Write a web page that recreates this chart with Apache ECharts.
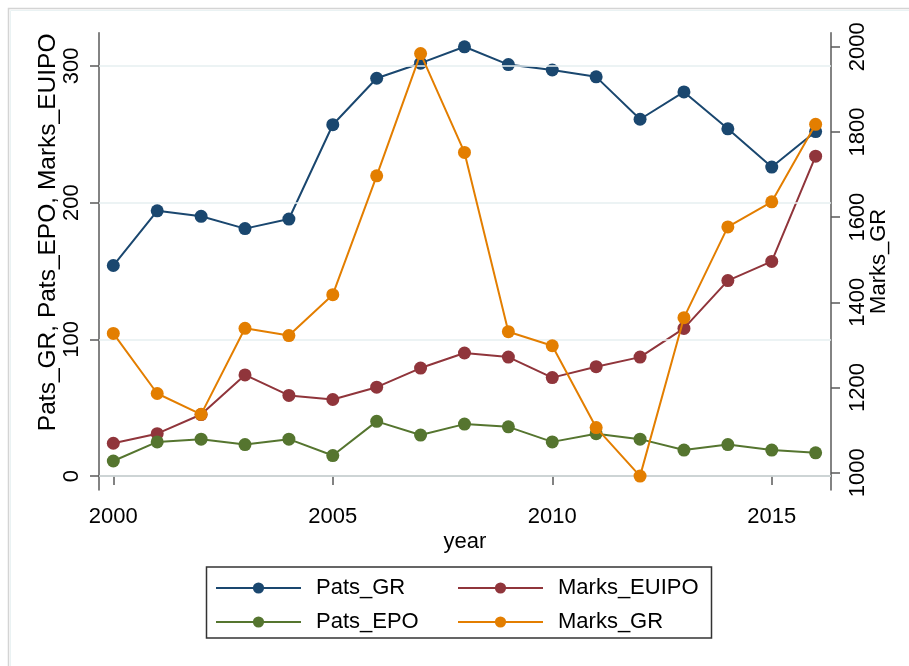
<!DOCTYPE html>
<html>
<head>
<meta charset="utf-8">
<script src="https://cdn.jsdelivr.net/npm/echarts@6/dist/echarts.min.js"></script>
<style>
html,body{margin:0;padding:0;background:#fff;}
#chart{width:909px;height:666px;}
</style>
</head>
<body>
<div id="chart"></div>
<script>
// ---- data ----
const years = [2000,2001,2002,2003,2004,2005,2006,2007,2008,2009,2010,2011,2012,2013,2014,2015,2016];
const patsGR = [154,194,190,181,188,257,291,302,314,301,297,292,261,281,254,226,252];
const marksEUIPO = [24,31,45,74,59,56,65,79,90,87,72,80,87,108,143,157,234];
const patsEPO = [11,25,27,23,27,15,40,30,38,36,25,31,27,19,23,19,17];
const marksGR = [1327,1186,1137,1339,1322,1418,1697,1984,1752,1331,1298,1106,992,1364,1577,1636,1818];
const xTicks = [2000,2005,2010,2015];
const leftTicks = [0,100,200,300];
const rightTicks = [1000,1200,1400,1600,1800,2000];
const leftTitle = 'Pats_GR, Pats_EPO, Marks_EUIPO';
const rightTitle = 'Marks_GR';
const xTitle = 'year';

const FONT = "'Liberation Sans', Arial, sans-serif";
const AXIS_COLOR = '#5a5a5a';
const GRID_COLOR = '#e6eff1';

function pairs(vals){ return years.map((y,i)=>[y, vals[i]]); }

const chart = echarts.init(document.getElementById('chart'), null, {renderer:'canvas'});

function mkSeries(name, vals, color, yIdx, z){
  return {
    name: name, type: 'line', yAxisIndex: yIdx, z: z,
    data: pairs(vals),
    symbol: 'circle', symbolSize: 13,
    lineStyle: {color: color, width: 2},
    itemStyle: {color: color},
    emphasis: {disabled: true},
    animation: false
  };
}

const axisCommon = {
  axisLine: {show: true, lineStyle: {color: AXIS_COLOR, width: 1.5}},
  splitLine: {show: false},
  nameMoveOverlap: false,
  nameTextStyle: {fontFamily: FONT, fontSize: 22, color: '#000'}
};

const option = {
  backgroundColor: '#fff',
  animation: false,
  textStyle: {fontFamily: FONT},
  grid: {left: 99, right: 78, top: 32.7, bottom: 176, containLabel: false, outerBoundsMode: 'none'},
  xAxis: Object.assign({}, axisCommon, {
    type: 'value', min: 1999.674, max: 2016.35,
    name: xTitle, nameLocation: 'middle', nameGap: 41,
    axisTick: {show: true, inside: false, length: 9, customValues: xTicks, lineStyle: {color: AXIS_COLOR, width: 1.5}},
    axisLabel: {customValues: xTicks, margin: 16, fontFamily: FONT, fontSize: 22, color: '#000', formatter: v => String(v)}
  }),
  yAxis: [
    Object.assign({}, axisCommon, {
      type: 'value', position: 'left', min: -10.2, max: 324.3,
      name: leftTitle, nameLocation: 'middle', nameRotate: 90, nameGap: 38,
      nameTextStyle: {fontFamily: FONT, fontSize: 24.5, color: '#000', padding: [0,0,0,58]},
      axisTick: {show: true, inside: false, length: 9, customValues: leftTicks, lineStyle: {color: AXIS_COLOR, width: 1.5}},
      axisLabel: {customValues: leftTicks, rotate: 90, margin: 16, fontFamily: FONT, fontSize: 22, color: '#000', formatter: v => String(v)}
    }),
    Object.assign({}, axisCommon, {
      type: 'value', position: 'right', min: 959.4, max: 2033,
      name: rightTitle, nameLocation: 'middle', nameRotate: 90, nameGap: 37,
      axisTick: {show: true, inside: false, length: 9, customValues: rightTicks, lineStyle: {color: AXIS_COLOR, width: 1.5}},
      axisLabel: {customValues: rightTicks, rotate: 90, margin: 16, fontFamily: FONT, fontSize: 22, color: '#000', formatter: v => String(v)}
    })
  ],
  legend: [
    {
      data: ['Pats_GR','Pats_EPO'], orient: 'vertical', left: 215, top: 577, padding: 0,
      itemWidth: 85, itemHeight: 14, itemGap: 12,
      textStyle: {fontFamily: FONT, fontSize: 22, color: '#000', padding: [0,0,0,10]},
      selectedMode: false
    },
    {
      data: ['Marks_EUIPO','Marks_GR'], orient: 'vertical', left: 457, top: 577, padding: 0,
      itemWidth: 85, itemHeight: 14, itemGap: 12,
      textStyle: {fontFamily: FONT, fontSize: 22, color: '#000', padding: [0,0,0,10]},
      selectedMode: false
    }
  ],
  graphic: [
    {type: 'rect', z: -10, silent: true, shape: {x: 8.5, y: 8.5, width: 1000, height: 1000}, style: {fill: 'none', stroke: '#d4d4d4', lineWidth: 1.5}},
    {type: 'rect', z: -10, silent: true, shape: {x: 10.5, y: 10.5, width: 1000, height: 1000}, style: {fill: 'none', stroke: '#eaf2f3', lineWidth: 1}},
    {type: 'rect', z: -5, silent: true, shape: {x: 206.5, y: 567, width: 505, height: 71}, style: {fill: '#fff', stroke: '#333', lineWidth: 1.5}}
  ],
  series: [
    {
      name: 'gridlines', type: 'line', yAxisIndex: 0, z: 1, data: [], silent: true,
      markLine: {
        silent: true, symbol: ['none','none'], label: {show: false}, animation: false,
        lineStyle: {color: GRID_COLOR, width: 1.5, type: 'solid'},
        emphasis: {disabled: true},
        data: leftTicks.map(v => ({yAxis: v}))
      }
    },
    mkSeries('Pats_GR', patsGR, '#1a476f', 0, 2),
    mkSeries('Marks_EUIPO', marksEUIPO, '#90353b', 0, 3),
    mkSeries('Pats_EPO', patsEPO, '#55752f', 0, 4),
    mkSeries('Marks_GR', marksGR, '#e37e00', 1, 5)
  ]
};
chart.setOption(option);
</script>
</body>
</html>
